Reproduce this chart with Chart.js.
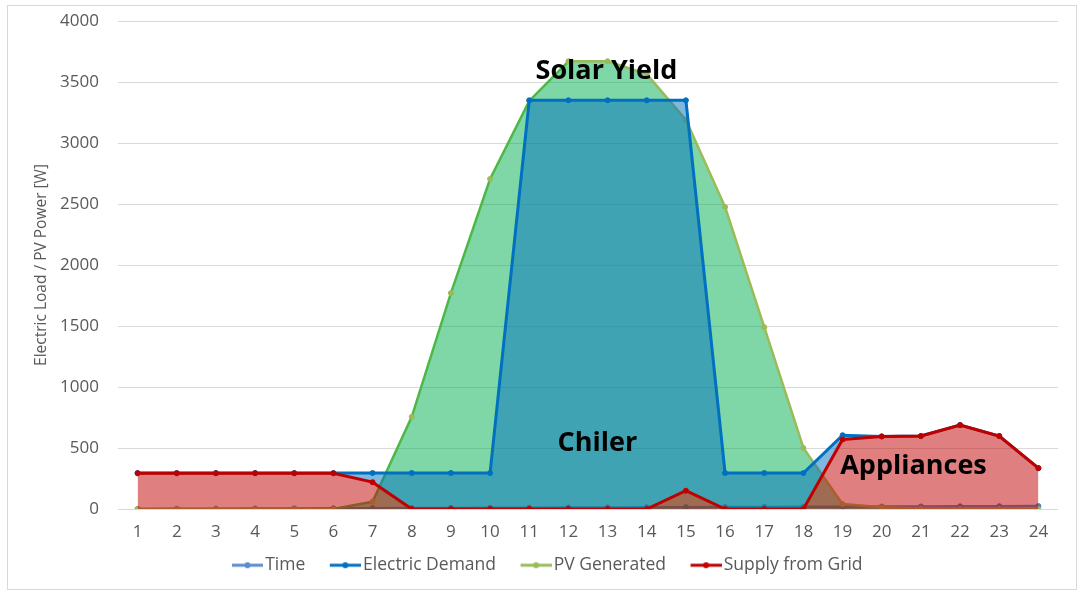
<!DOCTYPE html>
<html>
<head>
<meta charset="utf-8">
<script src="https://cdn.jsdelivr.net/npm/chart.js@4.4.1/dist/chart.umd.min.js"></script>
<style>
html, body { margin: 0; padding: 0; background: #ffffff; }
#c { display: block; }
</style>
</head>
<body>
<canvas id="c" width="1083" height="594"></canvas>
<script>
// ---- data ----
const hours = ['1','2','3','4','5','6','7','8','9','10','11','12','13','14','15','16','17','18','19','20','21','22','23','24'];
const timeValues = [1,2,3,4,5,6,7,8,9,10,11,12,13,14,15,16,17,18,19,20,21,22,23,24];
const electricDemand = [295,295,295,295,295,295,295,295,295,295,3350,3350,3350,3350,3350,295,295,295,605,595,598,688,598,335];
const pvGenerated = [0,0,0,0,0,0,60,755,1770,2705,3345,3670,3670,3565,3190,2475,1490,500,40,15,5,0,0,0];
const supplyFromGrid = [293,293,293,293,293,293,220,0,0,0,0,0,0,0,150,0,0,0,570,595,598,688,598,335];
const yTicks = [0,500,1000,1500,2000,2500,3000,3500,4000];
const seriesNames = ['Time','Electric Demand','PV Generated','Supply from Grid'];
const annotationTexts = ['Solar Yield','Chiler','Appliances'];

const lineColors = ['#5B8BD0', '#0070C0', '#9BBB59', '#C00000'];

function makeIcon(color) {
  const cv = document.createElement('canvas');
  cv.width = 43; cv.height = 12;
  const g = cv.getContext('2d');
  g.strokeStyle = color; g.lineWidth = 3;
  g.beginPath(); g.moveTo(12, 6); g.lineTo(43, 6); g.stroke();
  g.fillStyle = color;
  g.beginPath(); g.arc(27.5, 6, 3, 0, Math.PI * 2); g.fill();
  return cv;
}
const icons = lineColors.map(makeIcon);

const decor = {
  id: 'decor',
  beforeDraw(chart) {
    const ctx = chart.ctx;
    ctx.save();
    ctx.fillStyle = '#ffffff';
    ctx.fillRect(0, 0, chart.width, chart.height);
    ctx.strokeStyle = '#d9d9d9';
    ctx.lineWidth = 1;
    ctx.strokeRect(7.5, 5.5, 1069, 584);
    ctx.restore();
  },
  afterDatasetsDraw(chart, args, opts) {
    const ctx = chart.ctx;
    const x = chart.scales.x, y = chart.scales.y;
    ctx.save();
    ctx.font = 'bold 27px "Open Sans"';
    ctx.fillStyle = '#000000';
    ctx.textAlign = 'center';
    ctx.textBaseline = 'alphabetic';
    opts.labels.forEach(l => {
      ctx.fillText(l.text, x.getPixelForValue(l.xIndex), y.getPixelForValue(l.yValue));
    });
    ctx.restore();
  }
};

const ctx = document.getElementById('c').getContext('2d');
new Chart(ctx, {
  type: 'line',
  data: {
    labels: hours,
    datasets: [
      {
        label: seriesNames[0], data: timeValues,
        borderColor: lineColors[0], backgroundColor: 'rgba(91,139,208,0.45)',
        pointBackgroundColor: '#4F7FC8', pointBorderColor: '#4F7FC8',
        fill: 'origin', borderWidth: 2.5, pointRadius: 2.5, pointBorderWidth: 1, order: 4
      },
      {
        // demand area spans from the grid-supply line up to the demand line
        label: seriesNames[1], data: electricDemand,
        borderColor: lineColors[1], backgroundColor: 'rgba(0,112,192,0.5)',
        pointBackgroundColor: '#0070C0', pointBorderColor: '#0070C0',
        fill: 3, borderWidth: 3, pointRadius: 2.5, pointBorderWidth: 1, order: 1
      },
      {
        label: seriesNames[2], data: pvGenerated,
        borderColor: lineColors[2],
        pointBackgroundColor: '#9BBB59', pointBorderColor: '#9BBB59',
        segment: {
          borderColor: c => (c.p1.parsed.y > c.p0.parsed.y ? '#4CB848' : '#9BBB59')
        },
        fill: false, borderWidth: 2.5, pointRadius: 2.5, pointBorderWidth: 1, order: 2
      },
      {
        label: seriesNames[3], data: supplyFromGrid,
        borderColor: lineColors[3], backgroundColor: 'rgba(192,0,0,0.5)',
        pointBackgroundColor: '#C00000', pointBorderColor: '#C00000',
        fill: 'origin', borderWidth: 3, pointRadius: 2.5, pointBorderWidth: 1, order: 0
      },
      {
        // PV area (fill only, same values as the PV line)
        label: 'PV area', data: pvGenerated,
        borderWidth: 0, borderColor: 'rgba(0,0,0,0)', backgroundColor: 'rgba(0,176,80,0.5)',
        pointRadius: 0, fill: 'origin', order: 3
      }
    ]
  },
  options: {
    responsive: false,
    animation: false,
    events: [],
    devicePixelRatio: 1,
    layout: { padding: { left: 31, right: 25, top: 21, bottom: 10 } },
    elements: { line: { tension: 0 } },
    scales: {
      x: {
        offset: true,
        grid: { display: false },
        border: { display: false },
        ticks: { color: '#595959', font: { family: 'Open Sans', size: 17 }, padding: 5, maxRotation: 0, autoSkip: false },
        afterFit: s => { s.height = 28.5; s._computeLabelArea = () => null; }
      },
      y: {
        min: 0, max: 4000,
        afterBuildTicks: s => { s.ticks = yTicks.map(v => ({ value: v })); },
        grid: { color: '#d9d9d9', lineWidth: 1, drawTicks: false },
        border: { display: false },
        ticks: { color: '#595959', font: { family: 'Open Sans', size: 17 }, padding: 19, callback: v => String(v) },
        title: {
          display: true, text: 'Electric Load / PV Power [W]', color: '#595959',
          font: { family: 'Open Sans', size: 15.5 }, padding: { top: 1, bottom: 0 }
        },
        afterFit: s => { s.width = 87; s.paddingTop = 10; s.paddingBottom = 10; }
      }
    },
    plugins: {
      tooltip: { enabled: false },
      legend: {
        position: 'bottom',
        labels: {
          usePointStyle: true,
          pointStyleWidth: 30,
          padding: 19,
          color: '#595959',
          font: { family: 'Open Sans', size: 17.5 },
          filter: item => item.datasetIndex < 4,
          sort: (a, b) => a.datasetIndex - b.datasetIndex,
          generateLabels(chart) {
            const items = Chart.defaults.plugins.legend.labels.generateLabels(chart);
            items.forEach(it => { it.pointStyle = icons[it.datasetIndex] || it.pointStyle; it.fontColor = '#595959'; });
            return items;
          }
        }
      },
      decor: {
        labels: [
          { text: annotationTexts[0], xIndex: 11.97, yValue: 3525 },
          { text: annotationTexts[1], xIndex: 11.74, yValue: 475 },
          { text: annotationTexts[2], xIndex: 19.81, yValue: 287 }
        ]
      }
    }
  },
  plugins: [decor]
});
</script>
</body>
</html>
